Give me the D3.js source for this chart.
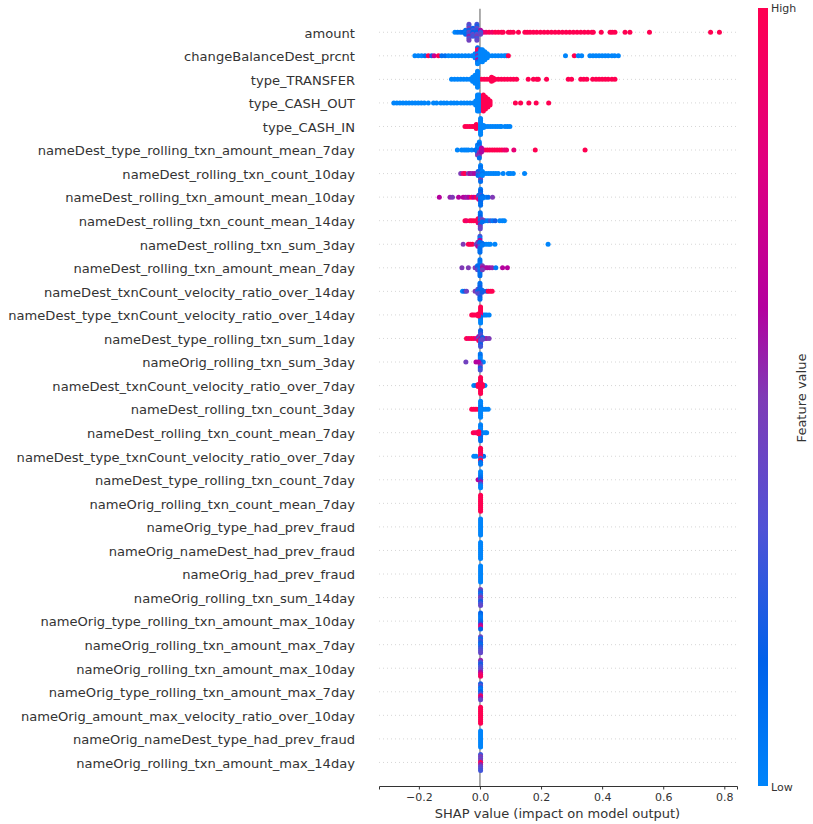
<!DOCTYPE html>
<html>
<head>
<meta charset="utf-8">
<script src="https://cdn.jsdelivr.net/npm/d3@7"></script>
<style>
  body { margin: 0; background: #fff; }
  text { font-family: "DejaVu Sans", sans-serif; fill: #333; }
</style>
</head>
<body>
<svg id="chart" width="813" height="824"></svg>
<script>
const features = [
  'amount', 'changeBalanceDest_prcnt', 'type_TRANSFER', 'type_CASH_OUT', 'type_CASH_IN',
  'nameDest_type_rolling_txn_amount_mean_7day', 'nameDest_rolling_txn_count_10day',
  'nameDest_rolling_txn_amount_mean_10day', 'nameDest_rolling_txn_count_mean_14day',
  'nameDest_rolling_txn_sum_3day', 'nameDest_rolling_txn_amount_mean_7day',
  'nameDest_txnCount_velocity_ratio_over_14day', 'nameDest_type_txnCount_velocity_ratio_over_14day',
  'nameDest_type_rolling_txn_sum_1day', 'nameOrig_rolling_txn_sum_3day',
  'nameDest_txnCount_velocity_ratio_over_7day', 'nameDest_rolling_txn_count_3day',
  'nameDest_rolling_txn_count_mean_7day', 'nameDest_type_txnCount_velocity_ratio_over_7day',
  'nameDest_type_rolling_txn_count_7day', 'nameOrig_rolling_txn_count_mean_7day',
  'nameOrig_type_had_prev_fraud', 'nameOrig_nameDest_had_prev_fraud', 'nameOrig_had_prev_fraud',
  'nameOrig_rolling_txn_sum_14day', 'nameOrig_type_rolling_txn_amount_max_10day',
  'nameOrig_rolling_txn_amount_max_7day', 'nameOrig_rolling_txn_amount_max_10day',
  'nameOrig_type_rolling_txn_amount_max_7day', 'nameOrig_amount_max_velocity_ratio_over_10day',
  'nameOrig_nameDest_type_had_prev_fraud', 'nameOrig_rolling_txn_amount_max_14day'
];

const xTicks = [-0.2, 0, 0.2, 0.4, 0.6, 0.8];

// colour ramp (feature value, low to high)
const rampStops = [0, 0.16, 0.33, 0.5, 0.615, 0.8, 1];
const rampColors = ['#0085fb', '#0061ea', '#5052d6', '#7f3ab6', '#b4009e', '#e00080', '#ff0051'];

// single dots per row: [shap value, feature value]
const tailPoints = [
  [[-.082,0],[-.073,.05],[-.064,.05],[-.056,.1],
   [.011,.8],[.02,.9],[.03,1],[.04,.9],[.05,1],[.06,1],[.07,1],[.076,1],[.093,1],[.1,1],[.109,1],[.126,1],
   [.147,1],[.155,1],[.164,1],[.175,1],[.186,1],[.198,1],[.21,1],[.222,1],[.234,1],[.246,1],[.258,1],[.27,1],
   [.282,1],[.294,1],[.306,1],[.318,1],[.33,1],[.342,1],[.354,1],[.366,1],[.371,1],[.397,1],[.426,1],[.433,1],
   [.442,1],[.475,1],[.491,1],[.555,1],[.755,1],[.784,1]],
  [[-.213,0],[-.202,0],[-.191,0],[-.18,.1],[-.169,1],[-.158,.2],[-.15,.7],[-.136,1],[-.125,.1],[-.114,.1],
   [-.103,0],[-.092,0],[-.081,0],[-.07,0],[-.059,0],[-.048,0],[-.037,0],[-.026,0],
   [.03,0],[.04,0],[.05,0],[.06,0],[.07,0],[.08,0],[.087,0],[.093,1],
   [.28,0],[.309,1],[.322,0],[.333,0],[.36,0],[.37,0],[.38,0],[.39,0],[.4,0],[.41,0],[.42,0],[.432,0],[.441,0],[.453,0]],
  [[-.093,0],[-.083,0],[-.073,0],[-.063,0],[-.053,0],[-.043,0],[-.033,0],
   [.005,1],[.014,1],[.023,1],[.032,1],[.041,1],[.05,1],[.06,1],[.07,1],[.08,1],[.09,1],[.1,1],[.11,1],[.12,1],
   [.158,1],[.175,1],[.186,1],[.191,1],[.218,1],[.289,1],[.3,1],[.33,1],[.34,1],[.35,1],[.369,1],[.38,1],
   [.39,1],[.4,1],[.41,1],[.42,1],[.432,1],[.442,1]],
  [[-.282,0],[-.272,0],[-.262,0],[-.252,0],[-.242,0],[-.232,0],[-.222,0],[-.212,0],[-.202,0],[-.192,0],
   [-.182,0],[-.169,0],[-.152,0],[-.142,0],[-.128,0],[-.118,0],[-.108,0],[-.095,0],[-.085,0],[-.075,0],
   [-.062,0],[-.052,0],[-.042,0],[-.032,0],[-.022,0],
   [.116,1],[.133,1],[.16,1],[.184,1],[.225,1]],
  [[-.049,1],[-.042,1],[-.034,1],[-.026,1],[-.02,1],[-.005,1],
   [.01,0],[.018,0],[.026,0],[.034,0],[.042,0],[.05,0],[.058,0],[.066,0],[.07,0],[.082,0],[.09,0],[.098,0]],
  [[-.074,0],[-.06,0],[-.052,0],[-.045,0],[-.038,0],[-.027,0],[-.015,.1],
   [.008,.7],[.016,.9],[.024,1],[.032,1],[.04,1],[.048,1],[.056,1],[.064,1],[.072,1],[.08,.9],[.087,.9],[.111,.85],[.181,1],[.344,1]],
  [[-.063,.5],[-.055,.85],[-.049,1],[-.038,.5],[-.032,.6],[-.025,.55],[-.018,.6],[-.01,.6],
   [.012,0],[.02,0],[.028,0],[.036,0],[.044,0],[.052,0],[.06,0],[.076,0],[.093,0],[.1,0],[.109,0],[.146,0]],
  [[-.133,.62],[-.098,.55],[-.09,.5],[-.07,.62],[-.055,.62],[-.048,.6],[-.042,.55],[-.036,.62],[-.027,1],[-.02,.7],
   [-.012,1],[-.007,.9],[.012,.1],[.02,0],[.027,.1],[.041,.5]],
  [[-.049,1],[-.044,.9],[-.033,1],[-.027,1],[-.02,1],[-.012,1],
   [.012,.6],[.018,.05],[.026,.05],[.034,.3],[.042,.05],[.05,.2],[.065,0],[.073,0],[.08,0]],
  [[-.055,.5],[-.038,1],[-.032,1],[-.025,1],[-.012,.5],
   [.012,.1],[.02,0],[.028,0],[.034,0],[.049,0],[.223,0]],
  [[-.059,.5],[-.038,.5],[-.016,.5],[.012,.6],[.018,.55],[.024,.6],[.032,.6],[.04,.55],[.052,.05],[.074,.62],[.09,.62]],
  [[-.057,0],[-.05,.2],[-.044,.45],[-.016,.5],[.012,.5],[.022,.2],[.027,1],[.034,1],[.04,1]],
  [[-.027,1],[-.022,1],[-.016,1],[-.009,1],[.01,0],[.016,0],[.022,0],[.03,0]],
  [[-.044,1],[-.036,.9],[-.028,1],[-.02,1],[-.012,.8],[.01,.3],[.016,.5],[.022,.55],[.03,.5]],
  [[-.046,.45],[-.013,.62],[.011,0]],
  [[-.02,0],[-.012,.1],[.012,.05],[.016,0]],
  [[-.027,1],[-.02,1],[-.013,1],[-.005,1],[.011,0],[.019,0],[.027,0]],
  [[-.022,1],[-.016,1],[-.01,.9],[.011,0],[.018,0],[.022,0]],
  [[-.02,0],[-.013,0],[.012,.1]],
  [[-.006,.62]], [], [], [], [], [], [], [], [], [], [], [], []
];

// stacked dots per row: [shap value, feature values from top to bottom]
const pilePoints = [
  [[-.047,[.1,.05,.1]], [-.036,[.4,.3,.5,.2,.4,.3,.55,.35,.45]], [-.023,[.2,.3,.15,.4,.3]],
   [-.01,[.3,.2,.4,.25,.15,.35,.5,.3,.4]], [.002,[.6,.3,.4]]],
  [[-.016,[0,0,0]], [-.008,[.1,1,.9,.05,.55,0,.6,.1,0]], [.002,[.1,0,0,0,0,0,0]], [.008,[0,0,0,0,0,0,0]], [.016,[0,0,0,0,0]], [.024,[0,0,0]]],
  [[-.024,[0,0,0]], [-.016,[0,0,0,0,0]], [-.008,[0,0,0,0,0,0,0,0,0]], [.038,[1,1,1]], [.044,[1,1]]],
  [[-.014,[0,0,0]], [-.008,[0,0,0,0,0,0,0,0,0]], [-.003,[0,0,0,0,0,0,0,0,0]], [.011,[1,1,1,1,1,1,1,1,1]],
   [.018,[1,1,1,1,1,1,1]], [.026,[1,1,1,1,1]], [.033,[1,1,1]]],
  [[-.012,[1,1,1]], [.002,[0,0,0,0,0,0,0,0,0]], [.012,[0,0]]],
  [[-.008,[.05,0,.1,.05,.1,.5]], [-.002,[0,.1,.1,0,.1,.5,.55,.5,.1]], [.005,[.6,.7,.6]]],
  [[-.006,[.2,.3,.1]], [.002,[0,.1,.05,.1,.3,.05,.05,.5,.1]], [.008,[0,.05,0]]],
  [[-.004,[.2,.4,.8]], [.002,[.05,.15,.1,.3,.1,.1,.2,.1,.1]], [.008,[.1,.05]]],
  [[-.006,[1,1,.9]], [.001,[.1,.1,.15,.3,.1,.55,.2,.5,.4]], [.008,[.5,.1]]],
  [[-.007,[.5,.4,.6]], [0,[.3,.05,.62,.1,.1,.4,.1,.1,.1]], [.007,[.1,.05]]],
  [[-.008,[.1,.2,.4]], [0,[.05,.1,.05,.1,.1,.05,.1,.1,.1]], [.008,[.5,.6,.5]]],
  [[-.007,[.4,.1,.4]], [0,[.1,.1,.2,.1,.2,.4,.3,.2,.1]], [.007,[.1,.2]]],
  [[.002,[1,1,1,1,.8,.1,.05,0,0]], [-.005,[1,1]]],
  [[-.004,[.6,.3,1]], [.002,[.2,.2,.3,.4,.6,.4,.3,.2,.3]], [.008,[.2,.4]]],
  [[.001,[.05,.1,0,0,.2,.4,.5,.2,.3]], [-.005,[.62]]],
  [[.002,[1,1,1,.9,1,1,1,1,1]], [-.006,[1,1]], [.008,[1,1]]],
  [[.002,[0,0,0,.05,0,0,0,0,0]]],
  [[.002,[0,.05,0,0,.1,0,.2,.1,.1]], [-.004,[1,1]]],
  [[.002,[1,1,1,.9,1,.3,1,.1,.05]]],
  [[.002,[0,0,.05,.1,.2,.6,.3,0,0]]],
  [[.002,[1,1,1,1,1,1,1,1,1]]],
  [[.002,[0,0,0,0,0,0,0,0,0]]],
  [[.002,[0,0,0,0,0,0,0,0,0]]],
  [[.002,[0,0,0,0,0,0,0,0,0]]],
  [[.002,[.45,.25,.1,.3,.5,.35,.2,.3,.4]]],
  [[.002,[.15,.1,.05,.05,.1,.2,.6,.8,.15]]],
  [[.002,[.4,.1,.3,.2,.1,.25,.3,.35,.4]]],
  [[.002,[.55,.3,.2,.3,.35,.4,.6,.85,.95]]],
  [[.002,[.2,.35,.1,.05,.15,.3,.95,.6,.4]]],
  [[.002,[1,1,1,1,1,1,1,1,1]]],
  [[.002,[0,0,0,0,0,0,0,0,0]]],
  [[.002,[.3,.5,.4,.5,1,.55,.4,.35,.3]]]
];

const width = 813, height = 824;
const margin = { left: 379, right: 737, top: 8.7, bottom: 786 };
const pileStep = 2, dotRadius = 2.5;

const svg = d3.select('#chart');

const xScale = d3.scaleLinear().domain([-0.3305, 0.8415]).range([margin.left, margin.right]);
const yScale = d3.scaleLinear().domain([-1, features.length]).range([margin.top, margin.bottom]);
const colorScale = d3.scaleLinear().domain(rampStops).range(rampColors).interpolate(d3.interpolateRgb);

// grid
svg.append('g').selectAll('line').data(features).join('line')
    .attr('x1', margin.left).attr('x2', margin.right)
    .attr('y1', (d, i) => yScale(i)).attr('y2', (d, i) => yScale(i))
    .attr('stroke', '#ccc').attr('stroke-width', 0.8).attr('stroke-dasharray', '1,3');

// zero line
svg.append('line')
    .attr('x1', xScale(0)).attr('x2', xScale(0))
    .attr('y1', margin.top).attr('y2', margin.bottom)
    .attr('stroke', '#999').attr('stroke-width', 1.6);

// feature names
svg.append('g').selectAll('text').data(features).join('text')
    .attr('x', 355).attr('y', (d, i) => yScale(i) + 5.3)
    .attr('text-anchor', 'end').attr('font-size', 13.08)
    .text(d => d);

// flatten tails and piles into dots
const dots = [];
features.forEach((f, row) => {
  (tailPoints[row] || []).forEach(([v, c]) => dots.push({ v, c, row, off: 0 }));
  (pilePoints[row] || []).forEach(([v, cs]) => {
    cs.forEach((c, i) => dots.push({ v, c, row, off: (i - (cs.length - 1) / 2) * pileStep }));
  });
});

svg.append('g').selectAll('circle').data(dots).join('circle')
    .attr('cx', d => xScale(d.v))
    .attr('cy', d => yScale(d.row) + d.off)
    .attr('r', dotRadius)
    .attr('fill', d => colorScale(d.c));

// x axis
const xAxis = d3.axisBottom(xScale)
    .tickValues(xTicks)
    .tickFormat(d3.format('.1f'))
    .tickSizeOuter(0)
    .tickSize(3.5)
    .tickPadding(3.5);

const xAxisG = svg.append('g')
    .attr('transform', `translate(0,${margin.bottom})`)
    .call(xAxis);
xAxisG.select('.domain').attr('stroke', '#333');
xAxisG.selectAll('.tick line').attr('stroke', '#333');
xAxisG.selectAll('.tick text').attr('font-size', 11).attr('font-family', '"DejaVu Sans"').style('fill', '#333');

svg.append('text')
    .attr('x', 557.5).attr('y', 818)
    .attr('text-anchor', 'middle').attr('font-size', 13)
    .text('SHAP value (impact on model output)');

// colour bar
const grad = svg.append('defs').append('linearGradient')
    .attr('id', 'ramp').attr('x1', 0).attr('x2', 0).attr('y1', 1).attr('y2', 0);
grad.selectAll('stop').data(rampStops).join('stop')
    .attr('offset', d => d)
    .attr('stop-color', d => colorScale(d));

svg.append('rect')
    .attr('x', 758).attr('y', 8).attr('width', 10).attr('height', 778)
    .attr('fill', 'url(#ramp)');

svg.append('text').attr('x', 771).attr('y', 12).attr('font-size', 11).text('High');
svg.append('text').attr('x', 771).attr('y', 791).attr('font-size', 11).text('Low');
svg.append('text')
    .attr('transform', 'translate(806,398) rotate(-90)')
    .attr('text-anchor', 'middle').attr('font-size', 13)
    .text('Feature value');
</script>
</body>
</html>
